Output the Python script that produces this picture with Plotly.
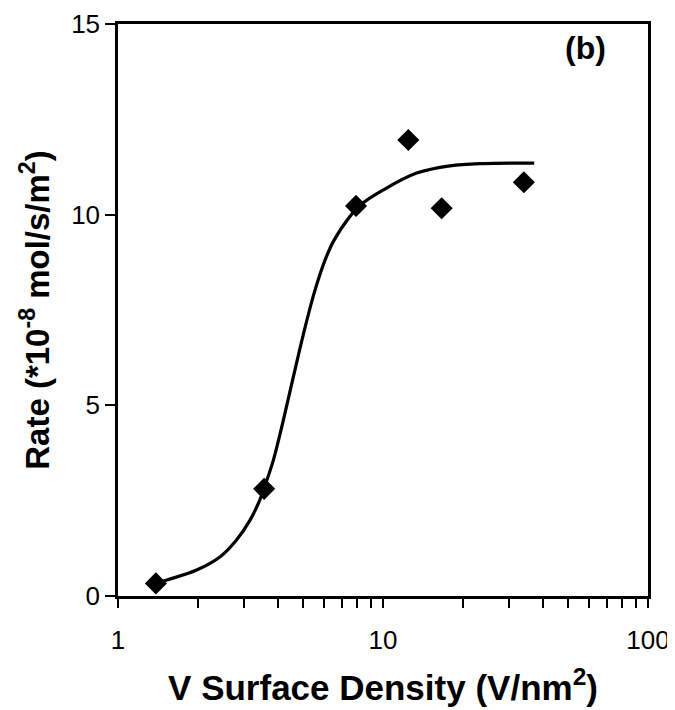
import plotly.graph_objects as go

density = [1.39, 3.56, 7.91, 12.46, 16.65, 34.0]
rate = [0.33, 2.81, 10.23, 11.96, 10.17, 10.85]

# fitted curve
fit_x = [1.39, 1.53, 1.98, 2.43, 2.80, 3.15, 3.43, 3.56, 3.86, 4.21, 4.59, 5.0, 5.5,
         6.0, 6.5, 7.5, 8.2, 10.03, 13.4, 17.9, 23.9, 37.2]
fit_y = [0.33, 0.42, 0.68, 1.03, 1.47, 1.99, 2.52, 2.83, 3.57, 4.62, 5.75, 6.85, 7.95,
         8.75, 9.3, 9.95, 10.25, 10.65, 11.09, 11.28, 11.34, 11.35]

x_ticks = [1, 10, 100]
x_minor = [2, 3, 4, 5, 6, 7, 8, 9, 20, 30, 40, 50, 60, 70, 80, 90]
y_ticks = [0, 5, 10, 15]

font = "Liberation Sans, Arial, sans-serif"

fig = go.Figure()
fig.add_trace(go.Scatter(x=fit_x, y=fit_y, mode="lines", line_shape="spline",
                         line=dict(color="black", width=3.2), hoverinfo="skip"))
fig.add_trace(go.Scatter(x=density, y=rate, mode="markers",
                         marker=dict(symbol="diamond", size=17, color="black")))

fig.update_xaxes(type="log", range=[0, 2], tickvals=x_ticks, ticktext=[str(v) for v in x_ticks],
                 showline=True, linecolor="black", linewidth=2.5, mirror=True,
                 ticks="outside", ticklen=9, tickwidth=2, tickcolor="black",
                 minor=dict(tickvals=x_minor, ticks="outside", ticklen=9, tickwidth=2,
                            tickcolor="black", showgrid=False),
                 showgrid=False, zeroline=False, automargin=False,
                 tickfont=dict(family=font, size=26, color="black"), ticklabelstandoff=10,
                 title=dict(text="<b>V Surface Density (V/nm<sup>2</sup>)</b>",
                            font=dict(family=font, size=35, color="black"), standoff=22))
fig.update_yaxes(range=[0, 15], tickvals=y_ticks,
                 showline=True, linecolor="black", linewidth=2.5, mirror=True,
                 ticks="outside", ticklen=10, tickwidth=2, tickcolor="black",
                 showgrid=False, zeroline=False, automargin=False,
                 tickfont=dict(family=font, size=26, color="black"))

# y title as a rotated annotation so it sits exactly where the reference has it
fig.add_annotation(x=-0.157, y=0.5, xref="paper", yref="paper", textangle=-90,
                   xanchor="center", yanchor="middle",
                   text="<b>Rate (*10<sup>-8</sup> mol/s/m<sup>2</sup>)</b>",
                   showarrow=False, font=dict(family=font, size=33, color="black"))

fig.add_annotation(x=0.925, y=0.993, xref="paper", yref="paper", text="<b>(b)</b>",
                   showarrow=False, font=dict(family=font, size=32, color="black"))

# page body has an 8px margin, so the figure is 8px smaller each way
fig.update_layout(width=667, height=702, showlegend=False,
                  plot_bgcolor="white", paper_bgcolor="white",
                  margin=dict(l=110, r=27, t=16, b=114))

fig.write_html("out.html")
